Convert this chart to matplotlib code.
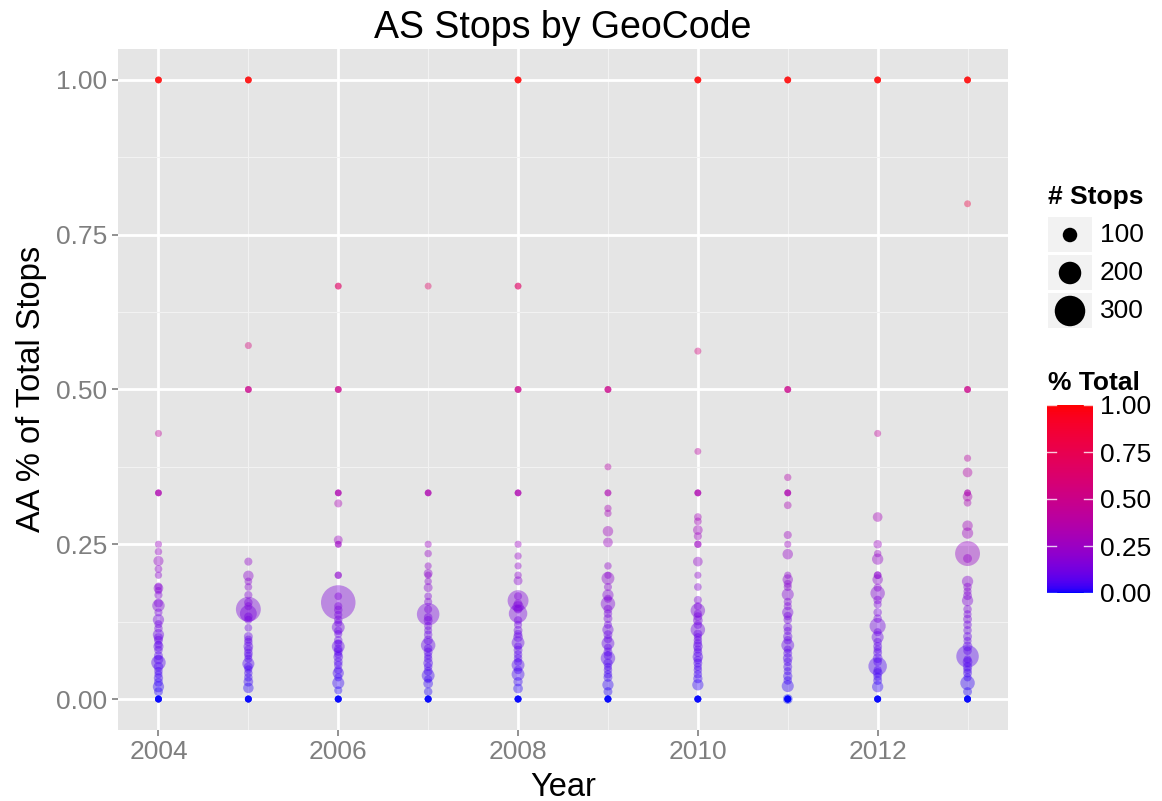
import numpy as np
import matplotlib
matplotlib.use("Agg")
import matplotlib.pyplot as plt
import matplotlib.colors as mcolors
from matplotlib.patches import Rectangle

plt.rcParams["font.family"] = ["Liberation Sans", "DejaVu Sans"]

W, H = 1162, 801

# (share of AA stops, number of stops) for each geocode, by year
years = [2004, 2005, 2006, 2007, 2008, 2009, 2010, 2011, 2012, 2013]

pts_2004 = ([(1.0, 3)] * 4 + [(0.429, 7)] + [(0.333, 3)] * 3 +
            [(0.25, 8), (0.238, 12), (0.223, 45), (0.21, 15), (0.2, 10), (0.179, 40),
             (0.175, 12), (0.168, 20), (0.151, 75), (0.14, 20), (0.128, 60), (0.114, 25),
             (0.104, 60), (0.095, 30), (0.085, 45), (0.079, 25), (0.07, 30), (0.059, 100),
             (0.052, 40), (0.045, 25), (0.034, 35), (0.02, 60), (0.012, 30),
             (0.182, 15), (0.155, 30), (0.121, 20), (0.099, 35), (0.088, 20), (0.064, 40),
             (0.04, 20), (0.027, 30)] +
            [(0.0, 5)] * 6)
pts_2005 = ([(1.0, 3)] * 4 + [(0.571, 7)] + [(0.5, 4)] * 3 +
            [(0.222, 20), (0.199, 50), (0.181, 15), (0.168, 20), (0.156, 25), (0.145, 230),
             (0.138, 130), (0.128, 20), (0.115, 15), (0.101, 30), (0.092, 25), (0.085, 40),
             (0.074, 30), (0.065, 20), (0.057, 70), (0.052, 30), (0.042, 25), (0.028, 40),
             (0.018, 50), (0.19, 15), (0.15, 20), (0.133, 25), (0.096, 20), (0.08, 25),
             (0.07, 20), (0.048, 20), (0.035, 25)] +
            [(0.0, 5)] * 6)
pts_2006 = ([(0.667, 4)] * 2 + [(0.5, 4)] * 3 + [(0.333, 3)] * 3 +
            [(0.316, 20), (0.257, 30), (0.25, 5), (0.25, 5), (0.2, 10), (0.2, 10),
             (0.166, 15), (0.156, 350), (0.144, 25), (0.136, 20), (0.128, 25), (0.116, 80),
             (0.105, 20), (0.095, 25), (0.085, 80), (0.077, 30), (0.068, 40), (0.06, 30),
             (0.047, 25), (0.042, 60), (0.026, 70), (0.014, 20), (0.15, 20), (0.123, 20),
             (0.11, 25), (0.09, 20), (0.081, 25), (0.072, 20), (0.055, 25), (0.035, 20)] +
            [(0.0, 5)] * 6)
pts_2007 = ([(0.667, 5)] + [(0.333, 3)] * 3 +
            [(0.25, 8), (0.235, 12), (0.215, 8), (0.203, 30), (0.2, 10), (0.19, 12),
             (0.18, 30), (0.166, 15), (0.157, 20), (0.137, 200), (0.127, 30), (0.111, 20),
             (0.095, 35), (0.087, 100), (0.076, 30), (0.065, 25), (0.058, 40), (0.045, 30),
             (0.038, 80), (0.025, 40), (0.012, 25), (0.145, 20), (0.132, 25), (0.118, 20),
             (0.104, 25), (0.082, 25), (0.07, 20), (0.052, 25), (0.032, 20)] +
            [(0.0, 5)] * 6)
pts_2008 = ([(1.0, 3)] * 4 + [(0.667, 4)] * 2 + [(0.5, 4)] * 3 + [(0.333, 3)] * 3 +
            [(0.25, 8), (0.231, 10), (0.215, 8), (0.2, 12), (0.191, 30), (0.166, 20),
             (0.159, 180), (0.149, 60), (0.138, 150), (0.127, 25), (0.111, 30), (0.1, 40),
             (0.091, 80), (0.079, 30), (0.066, 25), (0.055, 80), (0.04, 80), (0.028, 35),
             (0.017, 40), (0.154, 25), (0.145, 25), (0.12, 20), (0.105, 25), (0.085, 20),
             (0.072, 25), (0.06, 20), (0.047, 25)] +
            [(0.0, 5)] * 6)
pts_2009 = ([(0.5, 4)] * 3 + [(0.375, 5)] + [(0.333, 5)] * 2 +
            [(0.308, 10), (0.3, 10), (0.271, 50), (0.253, 40), (0.215, 12), (0.2, 10),
             (0.195, 80), (0.181, 20), (0.168, 60), (0.154, 100), (0.145, 30), (0.13, 30),
             (0.112, 60), (0.104, 30), (0.09, 80), (0.076, 30), (0.066, 100), (0.058, 35),
             (0.047, 25), (0.035, 30), (0.023, 60), (0.012, 30), (0.162, 20), (0.138, 25),
             (0.12, 20), (0.097, 25), (0.083, 20), (0.07, 25), (0.052, 20), (0.04, 25)] +
            [(0.0, 5)] * 6)
pts_2010 = ([(1.0, 3)] * 4 + [(0.562, 7), (0.4, 5)] + [(0.333, 4)] * 3 +
            [(0.294, 15), (0.287, 15), (0.273, 40), (0.263, 20), (0.25, 10), (0.25, 10),
             (0.222, 40), (0.2, 8), (0.181, 15), (0.16, 20), (0.143, 100), (0.133, 30),
             (0.127, 40), (0.112, 100), (0.105, 30), (0.095, 25), (0.085, 40), (0.075, 30),
             (0.068, 50), (0.058, 30), (0.047, 25), (0.033, 35), (0.023, 60), (0.15, 20),
             (0.138, 20), (0.12, 25), (0.1, 20), (0.09, 25), (0.08, 20), (0.063, 25),
             (0.052, 20), (0.04, 25)] +
            [(0.0, 5)] * 6)
pts_2011 = ([(1.0, 3)] * 4 + [(0.5, 4)] * 3 + [(0.358, 10)] + [(0.333, 4)] * 3 +
            [(0.313, 15), (0.265, 20), (0.25, 8), (0.234, 50), (0.2, 10), (0.193, 50),
             (0.181, 20), (0.169, 70), (0.157, 20), (0.14, 60), (0.128, 25), (0.116, 30),
             (0.101, 35), (0.087, 80), (0.074, 30), (0.066, 40), (0.052, 30), (0.037, 35),
             (0.021, 70), (0.0, 40), (0.186, 20), (0.15, 20), (0.134, 25), (0.11, 20),
             (0.095, 25), (0.08, 20), (0.06, 25), (0.045, 20), (0.03, 25)] +
            [(0.0, 5)] * 6)
pts_2012 = ([(1.0, 3)] * 4 + [(0.429, 7)] +
            [(0.294, 40), (0.25, 25), (0.235, 12), (0.226, 60), (0.2, 15), (0.2, 15),
             (0.193, 50), (0.171, 100), (0.16, 25), (0.153, 20), (0.14, 25), (0.118, 120),
             (0.1, 70), (0.085, 30), (0.075, 30), (0.066, 40), (0.053, 150), (0.042, 40),
             (0.03, 30), (0.02, 60), (0.18, 20), (0.13, 25), (0.108, 20), (0.092, 25),
             (0.08, 20), (0.06, 25), (0.047, 20), (0.036, 25)] +
            [(0.0, 5)] * 6)
pts_2013 = ([(1.0, 3)] * 4 + [(0.8, 5)] + [(0.5, 4)] * 3 + [(0.389, 8), (0.366, 40)] +
            [(0.333, 5)] * 2 +
            [(0.327, 40), (0.317, 15), (0.28, 50), (0.268, 60), (0.235, 230), (0.227, 30),
             (0.19, 60), (0.181, 25), (0.167, 30), (0.159, 60), (0.145, 25), (0.129, 30),
             (0.111, 25), (0.101, 30), (0.085, 40), (0.069, 200), (0.06, 40), (0.052, 35),
             (0.042, 30), (0.026, 100), (0.012, 30), (0.174, 20), (0.137, 20), (0.12, 25),
             (0.094, 20), (0.078, 25), (0.064, 20), (0.047, 25), (0.035, 20)] +
            [(0.0, 5)] * 6)

all_pts = [pts_2004, pts_2005, pts_2006, pts_2007, pts_2008,
           pts_2009, pts_2010, pts_2011, pts_2012, pts_2013]

legend_stops = [100, 200, 300]
cbar_ticks = [0.0, 0.25, 0.5, 0.75, 1.0]


# blue -> red gradient interpolated in Lab space, like ggplot's scale_colour_gradient
def rgb_to_lab(rgb):
    rgb = np.asarray(rgb, dtype=float)
    lin = np.where(rgb <= 0.04045, rgb / 12.92, ((rgb + 0.055) / 1.055) ** 2.4)
    m = np.array([[0.4124, 0.3576, 0.1805],
                  [0.2126, 0.7152, 0.0722],
                  [0.0193, 0.1192, 0.9505]])
    xyz = m @ lin / np.array([0.95047, 1.0, 1.08883])
    d = 6 / 29
    f = np.where(xyz > d ** 3, np.cbrt(xyz), xyz / (3 * d * d) + 4 / 29)
    return np.array([116 * f[1] - 16, 500 * (f[0] - f[1]), 200 * (f[1] - f[2])])


def lab_to_rgb(lab):
    L, a, b = lab
    fy = (L + 16) / 116
    fx = fy + a / 500
    fz = fy - b / 200
    d = 6 / 29
    f = np.array([fx, fy, fz])
    xyz = np.where(f > d, f ** 3, 3 * d * d * (f - 4 / 29)) * np.array([0.95047, 1.0, 1.08883])
    minv = np.array([[3.2406, -1.5372, -0.4986],
                     [-0.9689, 1.8758, 0.0415],
                     [0.0557, -0.2040, 1.0570]])
    lin = np.clip(minv @ xyz, 0, 1)
    rgb = np.where(lin <= 0.0031308, 12.92 * lin, 1.055 * lin ** (1 / 2.4) - 0.055)
    return np.clip(rgb, 0, 1)


lab_lo = rgb_to_lab(mcolors.to_rgb("blue"))
lab_hi = rgb_to_lab(mcolors.to_rgb("red"))
cmap = mcolors.ListedColormap(
    [lab_to_rgb(lab_lo + (lab_hi - lab_lo) * t) for t in np.linspace(0, 1, 256)])
norm = mcolors.Normalize(0, 1)


def size_pts2(n):
    d_px = 6.5 + 0.08 * np.asarray(n, dtype=float)
    return (d_px * 72 / 100) ** 2


fig = plt.figure(figsize=(W / 100, H / 100), dpi=100)
ax = fig.add_axes([118 / W, 1 - 730 / H, 890 / W, 681 / H])
ax.set_facecolor("#E5E5E5")
for s in ax.spines.values():
    s.set_visible(False)

ax.set_xlim(2003.55, 2013.45)
ax.set_ylim(-0.05, 1.05)
ax.set_xticks([2004, 2006, 2008, 2010, 2012])
ax.set_xticks([2005, 2007, 2009, 2011, 2013], minor=True)
ax.set_yticks(cbar_ticks)
ax.set_yticklabels(["%.2f" % v for v in cbar_ticks])
ax.set_yticks([0.125, 0.375, 0.625, 0.875], minor=True)
ax.grid(which="major", color="white", lw=2.0)
ax.grid(which="minor", color="#F2F2F2", lw=0.8)
ax.set_axisbelow(True)
ax.tick_params(which="major", colors="#7F7F7F", labelsize=19, length=4, width=1.2, pad=3)
ax.tick_params(axis="y", pad=4)
ax.tick_params(which="minor", length=0)

for yr, pts in zip(years, all_pts):
    pct = np.array([p for p, _ in pts])
    stops = np.array([n for _, n in pts])
    ax.scatter(np.full(len(pct), yr), pct, s=size_pts2(stops), c=pct, cmap=cmap,
               norm=norm, alpha=0.4, edgecolors="none", zorder=3)

fig.text(563 / W, 1 - 28 / H, "AS Stops by GeoCode", ha="center", va="center", fontsize=27)
fig.text(563 / W, 1 - 787 / H, "Year", ha="center", va="center", fontsize=23.5)
fig.text(32 / W, 1 - 389 / H, "AA % of Total Stops", ha="center", va="center",
         rotation=90, fontsize=23.5)

# size legend
lax = fig.add_axes([1040 / W, 1 - 340 / H, 122 / W, 160 / H])
lax.set_xlim(1040, 1162)
lax.set_ylim(340, 180)
lax.axis("off")
lax.text(1048, 197, "# Stops", fontsize=19, fontweight="bold", va="center", ha="left")
key_y = [235, 273, 311]
for ky, n in zip(key_y, legend_stops):
    lax.add_patch(Rectangle((1048, ky - 17.5), 44, 35, color="#F2F2F2", lw=0))
    lax.text(1100, ky, str(n), fontsize=19, va="center", ha="left")
lax.scatter([1070] * 3, key_y, s=size_pts2(legend_stops), color="black", edgecolors="none")

# colour bar
fig.text(1048 / W, 1 - 383 / H, "% Total", fontsize=19, fontweight="bold", va="center", ha="left")
cax = fig.add_axes([1047 / W, 1 - 593 / H, 46 / W, 188 / H])
sm = plt.cm.ScalarMappable(norm=norm, cmap=cmap)
cb = fig.colorbar(sm, cax=cax, ticks=cbar_ticks)
cb.outline.set_visible(False)
cb.ax.set_yticklabels(["%.2f" % v for v in cbar_ticks])
cb.ax.tick_params(length=0, labelsize=19, pad=5)
tr = cax.get_yaxis_transform()
for v in cbar_ticks:
    cax.plot([0, 0.2], [v, v], color="white", lw=1, alpha=0.8, transform=tr)
    cax.plot([0.8, 1], [v, v], color="white", lw=1, alpha=0.8, transform=tr)

fig.savefig("out.png", dpi=100)
